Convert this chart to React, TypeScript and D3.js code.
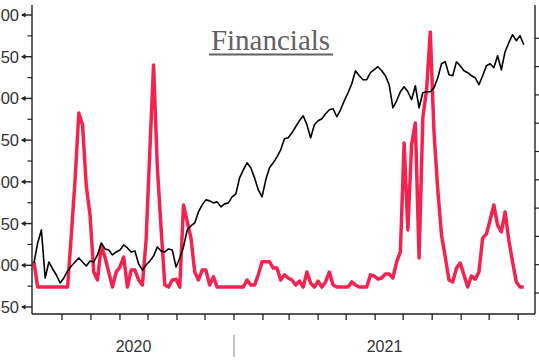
import React from "react";
import * as d3 from "d3";

// Sampling grid: one reading every 4 calendar days from 1 Jun 2020
const startDate = new Date(2020, 5, 1);
const stepDays = 4;

// Financials index level (left axis)
const financialsIndex = [
  402.8, 426.8, 442.4, 384.8, 404.0, 395.6, 388.4, 378.8, 384.8, 393.2,
  399.2, 404.0, 408.8, 404.0, 399.2, 405.2, 404.0, 412.4, 426.8, 419.6,
  418.4, 412.4, 416.0, 418.4, 424.4, 420.8, 416.0, 417.2, 401.6, 394.4,
  400.4, 405.2, 411.2, 422.0, 417.2, 416.0, 419.6, 418.4, 398.0, 408.8,
  422.0, 442.4, 447.2, 450.8, 464.0, 472.4, 478.4, 477.2, 474.8, 476.0,
  470.0, 473.6, 474.8, 482.0, 485.6, 504.8, 514.4, 522.8, 516.8, 504.8,
  490.4, 482.0, 502.4, 516.8, 522.8, 530.0, 538.4, 551.6, 552.8, 558.8,
  566.0, 573.2, 579.2, 568.4, 552.8, 568.4, 573.2, 575.6, 581.6, 586.4,
  587.6, 578.0, 586.4, 597.2, 606.8, 617.6, 633.2, 627.2, 622.4, 622.4,
  630.8, 634.4, 638.0, 633.2, 627.2, 616.4, 588.8, 597.2, 608.0, 614.0,
  608.0, 598.4, 615.2, 588.8, 606.8, 608.0, 608.0, 612.8, 624.8, 641.6,
  644.0, 628.4, 627.2, 644.0, 639.2, 633.2, 630.8, 627.2, 624.8, 616.4,
  627.2, 639.2, 641.6, 636.8, 651.2, 634.4, 656.0, 666.8, 676.4, 669.2,
  675.2, 664.4,
];

// Indicator (right axis)
const indicator = [
  11.0, 2.1, 2.1, 2.1, 2.1, 2.1, 2.1, 2.1, 2.1, 2.1,
  20.5, 39.9, 63.6, 59.4, 37.8, 27.6, 7.4, 4.6, 16.6, 12.7,
  7.4, 2.1, 7.4, 9.2, 12.7, 2.1, 8.1, 8.1, 4.6, 2.8,
  18.7, 50.5, 80.6, 44.5, 23.0, 2.8, 2.1, 4.6, 4.9, 2.1,
  31.1, 25.1, 19.4, 7.4, 4.6, 8.1, 8.1, 2.8, 5.7, 2.1,
  2.1, 2.1, 2.1, 2.1, 2.1, 2.1, 2.1, 4.6, 2.8, 2.8,
  6.4, 11.0, 11.0, 11.0, 8.8, 8.8, 4.6, 6.4, 5.3, 4.6,
  2.8, 4.2, 2.1, 7.4, 3.5, 2.1, 4.2, 2.1, 3.9, 7.4,
  2.8, 2.1, 2.1, 2.1, 2.1, 3.9, 2.8, 2.1, 2.1, 2.1,
  6.4, 6.0, 4.9, 5.3, 6.7, 6.7, 5.3, 11.0, 14.5, 53.0,
  22.3, 52.3, 60.1, 12.4, 61.8, 71.7, 92.2, 56.5, 36.4, 20.5,
  12.7, 4.6, 3.9, 8.8, 10.6, 6.4, 2.1, 6.0, 4.9, 7.4,
  19.4, 20.8, 25.8, 31.1, 24.0, 21.6, 28.6, 18.7, 11.0, 3.9,
  2.1, 2.1,
];

const leftTickValues = [350, 400, 450, 500, 550, 600, 650, 700];
const leftMinorValues = [375, 425, 475, 525, 575, 625, 675];
const rightTickValues = [0, 10, 20, 30, 40, 50, 60, 70, 80, 90];
const years = [2020, 2021];
const titleText = "Financials";

export default function App() {
  const W = 539;
  const H = 361;
  const left = 32;
  const right = 535;
  const top = 5;
  const bottom = 314;

  const x = d3
    .scaleTime()
    .domain([new Date(2020, 4, 31), new Date(2021, 10, 19)])
    .range([33, 535]);
  const yL = d3.scaleLinear().domain([350, 700]).range([307, 15]);
  const yR = d3.scaleLinear().domain([0, 90]).range([293, 38.3]);

  const dates = financialsIndex.map((_, i) => d3.timeDay.offset(startDate, i * stepDays));

  const blackLine = d3
    .line<number>()
    .x((_, i) => x(dates[i]))
    .y((d) => yL(d));
  const redLine = d3
    .line<number>()
    .x((_, i) => x(dates[i]))
    .y((d) => yR(d));

  const monthTicks = d3.timeMonth.range(new Date(2020, 6, 1), new Date(2021, 10, 2));
  const yearStart = x(new Date(2021, 0, 1));
  const yearCenters = [(33 + yearStart) / 2, (yearStart + right) / 2];

  const axisColor = "#222";
  const font = "'Liberation Sans', Arial, sans-serif";

  return (
    <svg
      width={W}
      height={H}
      style={{ position: "absolute", left: 0, top: 0, background: "#fff" }}
    >
      <rect x={0} y={0} width={W} height={H} fill="#fff" />
      {/* Title */}
      <text
        x={270.5}
        y={50}
        textAnchor="middle"
        fontFamily="'Liberation Serif', 'Times New Roman', serif"
        fontSize={29}
        fill="#616161"
      >
        {titleText}
      </text>
      <line x1={209} x2={333} y1={54.5} y2={54.5} stroke="#616161" strokeWidth={2} />

      {/* Series */}
      <path d={redLine(indicator) || ""} fill="none" stroke="#f2234f" strokeWidth={3.5} strokeLinejoin="round" />
      <path d={blackLine(financialsIndex) || ""} fill="none" stroke="#000" strokeWidth={1.6} strokeLinejoin="round" />

      {/* Frame */}
      <line x1={left} x2={left} y1={top} y2={bottom} stroke={axisColor} strokeWidth={1.4} />
      <line x1={left} x2={right} y1={bottom} y2={bottom} stroke={axisColor} strokeWidth={1.4} />
      <line x1={right} x2={right} y1={top} y2={bottom} stroke={axisColor} strokeWidth={1.4} />

      {/* Left axis */}
      {leftTickValues.map((v) => {
        const y = yL(v);
        return (
          <g key={"l" + v}>
            <line x1={22} x2={left} y1={y} y2={y} stroke={axisColor} strokeWidth={1.4} />
            <path d={`M21,${y} L25.5,${y - 2.6} L25.5,${y + 2.6} Z`} fill={axisColor} />
            <text
              x={19}
              y={y}
              dy="0.36em"
              textAnchor="end"
              fontFamily={font}
              fontSize={16.5}
              fill="#333"
            >
              {v}
            </text>
          </g>
        );
      })}
      {leftMinorValues.map((v) => (
        <line key={"m" + v} x1={27.5} x2={left} y1={yL(v)} y2={yL(v)} stroke={axisColor} strokeWidth={1.2} />
      ))}

      {/* Right axis ticks */}
      {rightTickValues.map((v) => (
        <line key={"r" + v} x1={right} x2={540} y1={yR(v)} y2={yR(v)} stroke={axisColor} strokeWidth={1.2} />
      ))}

      {/* Bottom axis */}
      {monthTicks.map((d) => (
        <line key={+d} x1={x(d)} x2={x(d)} y1={bottom} y2={bottom + 6} stroke={axisColor} strokeWidth={1.3} />
      ))}
      <line x1={yearStart} x2={yearStart} y1={335} y2={357} stroke="#9a9a9a" strokeWidth={1.2} />
      {years.map((yr, i) => (
        <text
          key={yr}
          x={yearCenters[i]}
          y={352}
          textAnchor="middle"
          fontFamily={font}
          fontSize={16}
          fill="#333"
        >
          {yr}
        </text>
      ))}
    </svg>
  );
}
